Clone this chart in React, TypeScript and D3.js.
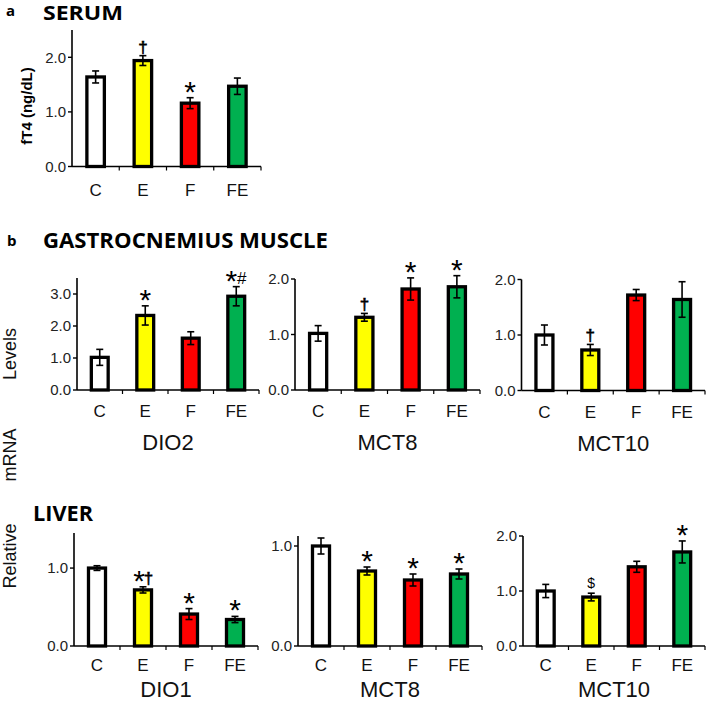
import React from "react";
import * as d3 from "d3";

const categories = ["C", "E", "F", "FE"];
const barColors = ["#FFFFFF", "#FFFF00", "#FF0000", "#00B050"];

// a: serum fT4
const serumValues = [1.64, 1.94, 1.16, 1.47];
const serumErrors = [0.11, 0.09, 0.1, 0.15];
const serumMarks = ["", "†", "*", ""];
const serumTicks = [0, 1, 2];

// b: gastrocnemius muscle
const muscleDio2Values = [1.02, 2.33, 1.62, 2.93];
const muscleDio2Errors = [0.25, 0.3, 0.2, 0.3];
const muscleDio2Marks = ["", "*", "", "*#"];
const muscleDio2Ticks = [0, 1, 2, 3];

const muscleMct8Values = [1.02, 1.31, 1.82, 1.86];
const muscleMct8Errors = [0.14, 0.07, 0.2, 0.2];
const muscleMct8Marks = ["", "†", "*", "*"];
const muscleMct8Ticks = [0, 1, 2];

const muscleMct10Values = [1.0, 0.73, 1.72, 1.64];
const muscleMct10Errors = [0.18, 0.1, 0.1, 0.32];
const muscleMct10Marks = ["", "†", "", ""];
const muscleMct10Ticks = [0, 1, 2];

// b: liver
const liverDio1Values = [1.0, 0.72, 0.41, 0.34];
const liverDio1Errors = [0.03, 0.04, 0.07, 0.04];
const liverDio1Marks = ["", "*†", "*", "*"];
const liverDio1Ticks = [0, 1];

const liverMct8Values = [1.0, 0.75, 0.66, 0.72];
const liverMct8Errors = [0.08, 0.04, 0.06, 0.05];
const liverMct8Marks = ["", "*", "*", "*"];
const liverMct8Ticks = [0, 1];

const liverMct10Values = [1.0, 0.89, 1.44, 1.71];
const liverMct10Errors = [0.12, 0.07, 0.1, 0.2];
const liverMct10Marks = ["", "$", "", "*"];
const liverMct10Ticks = [0, 1, 2];

const FONT = "'Liberation Sans', Arial, sans-serif";
const TITLE_FONT = "'Open Sans', 'Noto Sans', sans-serif";

type Layout = {
  x0: number; x1: number; y0: number; yTop: number; max: number;
  catDy: number; gene?: string; geneDy?: number;
};

const glyphStyle: Record<string, { size: number; off: number; w: number; sw: number }> = {
  "*": { size: 30, off: 4, w: 11, sw: 0 },
  "†": { size: 17, off: -3, w: 8, sw: 0.6 },
  "#": { size: 17, off: -3, w: 10, sw: 0 },
  "$": { size: 14, off: -5, w: 8, sw: 0 },
};

function Panel(props: {
  layout: Layout; values: number[]; errors: number[]; marks: string[]; ticks: number[];
}) {
  const { layout, values, errors, marks, ticks } = props;
  const { x0, x1, y0, yTop, max, catDy, gene, geneDy } = layout;
  const x = d3.scaleBand<string>().domain(categories).range([x0, x1]).padding(0);
  const y = d3.scaleLinear().domain([0, max]).range([y0, yTop]);
  const step = x.step();
  const barW = x.bandwidth() * 0.37;
  const fmt = d3.format(".1f");
  return (
    <g>
      {categories.map((c, i) => {
        const cx = (x(c) as number) + x.bandwidth() / 2;
        return (
          <rect key={"b" + c} x={cx - barW / 2} y={y(values[i])} width={barW}
            height={y0 - y(values[i])} fill={barColors[i]} stroke="#000" strokeWidth={3.3} />
        );
      })}
      <line x1={x0} x2={x0} y1={y0} y2={yTop} stroke="#000" strokeWidth={1.6} />
      <line x1={x0} x2={x1} y1={y0} y2={y0} stroke="#000" strokeWidth={1.6} />
      {ticks.map((t) => (
        <g key={"t" + t}>
          <line x1={x0 - 4} x2={x0} y1={y(t)} y2={y(t)} stroke="#000" strokeWidth={1.4} />
          <text x={x0 - 6} y={y(t)} dy="0.36em" textAnchor="end" fontSize={15}
            fontFamily={FONT} fill="#222">{fmt(t)}</text>
        </g>
      ))}
      {d3.range(1, 5).map((k) => (
        <line key={"xt" + k} x1={x0 + k * step} x2={x0 + k * step} y1={y0} y2={y0 + 4}
          stroke="#000" strokeWidth={1.2} />
      ))}
      {categories.map((c, i) => {
        const cx = (x(c) as number) + x.bandwidth() / 2;
        const lo = y(values[i] - errors[i]);
        const hi = y(values[i] + errors[i]);
        return (
          <g key={"e" + c} stroke="#000" strokeWidth={1.6}>
            <line x1={cx} x2={cx} y1={lo} y2={hi} />
            <line x1={cx - 3.5} x2={cx + 3.5} y1={lo} y2={lo} />
            <line x1={cx - 3.5} x2={cx + 3.5} y1={hi} y2={hi} />
          </g>
        );
      })}
      {categories.map((c, i) => {
        const m = marks[i];
        if (!m) return null;
        const cx = (x(c) as number) + x.bandwidth() / 2;
        const top = y(values[i] + errors[i]);
        const chars = Array.from(m);
        const total = chars.reduce((s, ch) => s + glyphStyle[ch].w, 0);
        let cur = cx - total / 2;
        return (
          <g key={"m" + c}>
            {chars.map((ch, k) => {
              const g = glyphStyle[ch];
              const px = cur + g.w / 2;
              cur += g.w;
              return (
                <text key={k} x={px} y={top + g.off} textAnchor="middle" fontSize={g.size}
                  fontFamily={FONT} fill="#000" stroke={g.sw ? "#000" : "none"}
                  strokeWidth={g.sw}>{ch}</text>
              );
            })}
          </g>
        );
      })}
      {categories.map((c) => (
        <text key={"c" + c} x={(x(c) as number) + x.bandwidth() / 2} y={y0 + catDy}
          textAnchor="middle" fontSize={17} fontFamily={FONT} fill="#111">{c}</text>
      ))}
      {gene && (
        <text x={(x0 + x1) / 2} y={y0 + (geneDy as number)} textAnchor="middle" fontSize={22}
          fontFamily={FONT} fill="#111">{gene}</text>
      )}
    </g>
  );
}

const serumLayout: Layout = { x0: 72, x1: 261, y0: 166.5, yTop: 30, max: 2.5, catDy: 29 };
const muscleDio2Layout: Layout = { x0: 77, x1: 259, y0: 390, yTop: 278, max: 3.5, catDy: 27, gene: "DIO2", geneDy: 60 };
const muscleMct8Layout: Layout = { x0: 295, x1: 480, y0: 390, yTop: 279, max: 2.0, catDy: 27, gene: "MCT8", geneDy: 60 };
const muscleMct10Layout: Layout = { x0: 521.5, x1: 705, y0: 390.5, yTop: 279.5, max: 2.0, catDy: 27, gene: "MCT10", geneDy: 60 };
const liverDio1Layout: Layout = { x0: 74, x1: 258, y0: 646, yTop: 533, max: 1.45, catDy: 25, gene: "DIO1", geneDy: 51 };
const liverMct8Layout: Layout = { x0: 298, x1: 482, y0: 646, yTop: 536, max: 1.1, catDy: 25, gene: "MCT8", geneDy: 51 };
const liverMct10Layout: Layout = { x0: 523, x1: 705, y0: 646, yTop: 536, max: 2.0, catDy: 25, gene: "MCT10", geneDy: 51 };

export default function App() {
  return (
    <svg width={709} height={705} viewBox="0 0 709 705"
      style={{ position: "absolute", left: 0, top: 0, background: "#fff" }}>
      <rect x={0} y={0} width={709} height={705} fill="#fff" />
      <text x={6} y={16} fontSize={15} fontWeight={700} fontFamily={TITLE_FONT}>a</text>
      <text x={43} y={19.5} fontSize={20} fontWeight={700} fontFamily={TITLE_FONT}
        textLength={80} lengthAdjust="spacingAndGlyphs">SERUM</text>
      <text transform="translate(32,106) rotate(-90)" textAnchor="middle" fontSize={15}
        fontWeight={700} fontFamily={FONT}>fT4 (ng/dL)</text>
      <Panel layout={serumLayout} values={serumValues} errors={serumErrors} marks={serumMarks} ticks={serumTicks} />

      <text x={7} y={246} fontSize={15} fontWeight={700} fontFamily={TITLE_FONT}>b</text>
      <text x={43} y={248} fontSize={20.5} fontWeight={700} fontFamily={TITLE_FONT}
        textLength={285} lengthAdjust="spacingAndGlyphs">GASTROCNEMIUS MUSCLE</text>
      <text x={33} y={521} fontSize={20.5} fontWeight={700} fontFamily={TITLE_FONT}
        textLength={60} lengthAdjust="spacingAndGlyphs">LIVER</text>

      <text transform="translate(16,354) rotate(-90)" textAnchor="middle" fontSize={18} fontFamily={FONT} fill="#111">Levels</text>
      <text transform="translate(16,455) rotate(-90)" textAnchor="middle" fontSize={18} fontFamily={FONT} fill="#111">mRNA</text>
      <text transform="translate(16,556) rotate(-90)" textAnchor="middle" fontSize={18} fontFamily={FONT} fill="#111">Relative</text>

      <Panel layout={muscleDio2Layout} values={muscleDio2Values} errors={muscleDio2Errors} marks={muscleDio2Marks} ticks={muscleDio2Ticks} />
      <Panel layout={muscleMct8Layout} values={muscleMct8Values} errors={muscleMct8Errors} marks={muscleMct8Marks} ticks={muscleMct8Ticks} />
      <Panel layout={muscleMct10Layout} values={muscleMct10Values} errors={muscleMct10Errors} marks={muscleMct10Marks} ticks={muscleMct10Ticks} />

      <Panel layout={liverDio1Layout} values={liverDio1Values} errors={liverDio1Errors} marks={liverDio1Marks} ticks={liverDio1Ticks} />
      <Panel layout={liverMct8Layout} values={liverMct8Values} errors={liverMct8Errors} marks={liverMct8Marks} ticks={liverMct8Ticks} />
      <Panel layout={liverMct10Layout} values={liverMct10Values} errors={liverMct10Errors} marks={liverMct10Marks} ticks={liverMct10Ticks} />
    </svg>
  );
}
